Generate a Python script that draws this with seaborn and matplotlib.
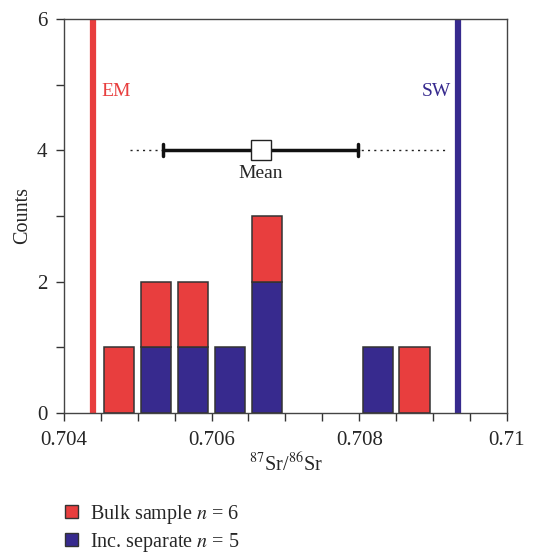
import numpy as np
import pandas as pd
import matplotlib
matplotlib.use("Agg")
import matplotlib.pyplot as plt
from matplotlib.patches import Patch
from matplotlib.ticker import MultipleLocator
import seaborn as sns

# sample values (bin centres)
bulk_values = [0.70475, 0.70525, 0.70575, 0.70675, 0.70875]
inc_values = [0.70525, 0.70575, 0.70625, 0.70675, 0.70675, 0.70825]
bin_edges = [0.7045, 0.7050, 0.7055, 0.7060, 0.7065, 0.7070, 0.7075, 0.7080, 0.7085, 0.7090]

em_value = 0.70439
sw_value = 0.70934
mean_value = 0.70667
mean_err = [0.70534, 0.70798]
mean_range = [0.70489, 0.70919]
mean_y = 4

red = "#e83e3e"
blue = "#372a8e"

df = pd.DataFrame({
    "ratio": bulk_values + inc_values,
    "group": ["Bulk"] * len(bulk_values) + ["Inc"] * len(inc_values),
})

sns.set_style("ticks")
plt.rcParams["font.family"] = ["Liberation Serif", "DejaVu Serif"]
plt.rcParams["mathtext.fontset"] = "stix"

fig = plt.figure(figsize=(5.37, 5.53), dpi=100)
ax = fig.add_axes([0.119, 0.253, 0.825, 0.713])

sns.histplot(data=df, x="ratio", hue="group", hue_order=["Bulk", "Inc"],
             bins=bin_edges, multiple="stack", shrink=0.82,
             palette={"Bulk": red, "Inc": blue}, alpha=1,
             edgecolor="#333333", linewidth=1.1, legend=False, ax=ax)
# hide empty bins
for p in ax.patches:
    if p.get_height() == 0:
        p.set_visible(False)

ax.axvline(em_value, color=red, lw=4.5, zorder=1)
ax.axvline(sw_value, color=blue, lw=4.5, zorder=1)
ax.text(em_value + 0.00012, 4.9, "EM", color=red, fontsize=14, va="center", ha="left")
ax.text(sw_value - 0.0001, 4.9, "SW", color=blue, fontsize=14, va="center", ha="right")

ax.plot(mean_range, [mean_y, mean_y], ls=(0, (1.5, 3)), color="#222222", lw=1.0)
ax.plot(mean_err, [mean_y, mean_y], color="#111111", lw=2.5)
for xe in mean_err:
    ax.plot([xe, xe], [mean_y - 0.09, mean_y + 0.09], color="#111111", lw=2.5)
ax.plot([mean_value], [mean_y], marker="s", ms=14, mfc="white", mec="#222222", mew=1.0)
ax.text(mean_value, 3.64, "Mean", fontsize=14, ha="center", va="center")

ax.set_xlim(0.704, 0.710)
ax.set_ylim(0, 6)
ax.set_xticks([0.704, 0.706, 0.708, 0.710])
ax.set_xticklabels(["0.704", "0.706", "0.708", "0.71"])
ax.xaxis.set_minor_locator(MultipleLocator(0.0005))
ax.set_yticks([0, 2, 4, 6])
ax.yaxis.set_minor_locator(MultipleLocator(1))
ax.tick_params(axis="both", which="both", direction="out", length=6, width=1,
               color="#333333", labelsize=15, top=False, right=False)
ax.tick_params(axis="x", which="both", pad=7)
ax.tick_params(axis="y", which="both", pad=6)
for sp in ax.spines.values():
    sp.set_color("#444444")
    sp.set_linewidth(1.0)

ax.set_xlabel(r"$^{87}$Sr/$^{86}$Sr", fontsize=14.5, labelpad=2)
ax.set_ylabel("Counts", fontsize=14.5, labelpad=3)

handles = [Patch(facecolor=red, edgecolor="#333333", label=r"Bulk sample $n$ = 6"),
           Patch(facecolor=blue, edgecolor="#333333", label=r"Inc. separate $n$ = 5")]
fig.legend(handles=handles, loc="lower left", bbox_to_anchor=(0.088, -0.034),
           frameon=False, fontsize=14.5, handlelength=0.65, handleheight=0.65,
           labelspacing=0.25, handletextpad=0.55)

fig.savefig("out.png", dpi=100)
